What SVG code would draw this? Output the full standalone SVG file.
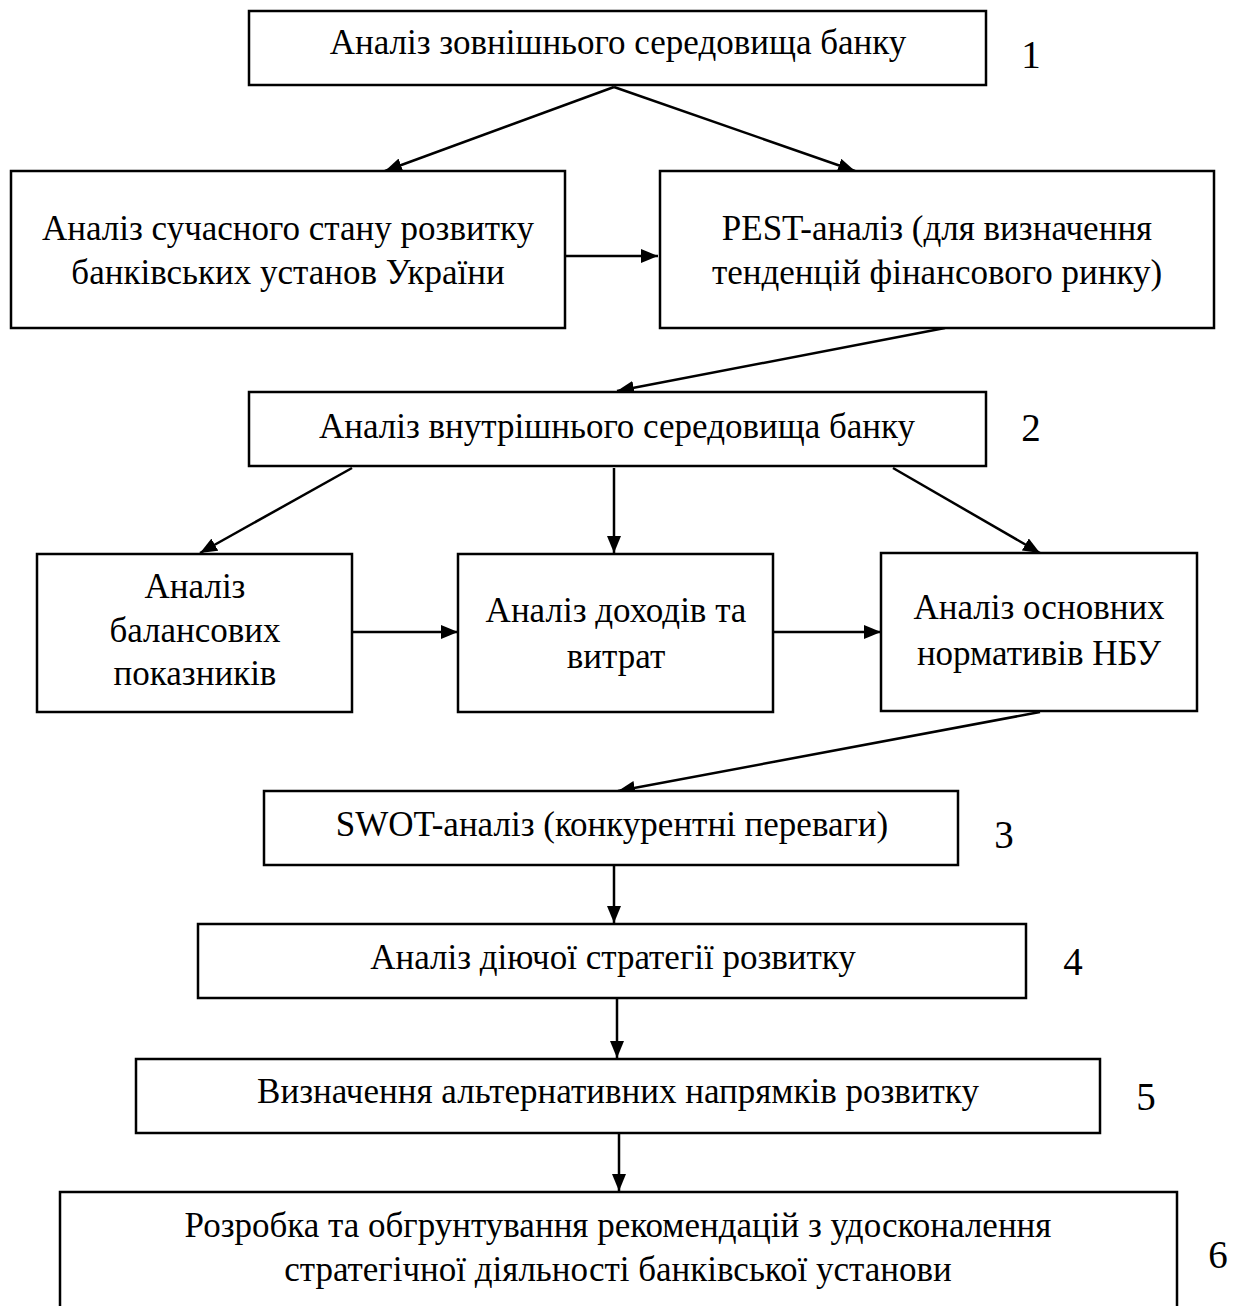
<svg xmlns="http://www.w3.org/2000/svg" width="1238" height="1306" viewBox="0 0 1238 1306">
<style>
.box{fill:#fff;stroke:#000;stroke-width:2.5}
.t{font-family:"Liberation Serif","Times New Roman",serif;font-size:35px;fill:#000;text-anchor:middle}
.n{font-family:"Liberation Serif","Times New Roman",serif;font-size:39px;fill:#000;text-anchor:middle}
.c{stroke:#000;stroke-width:2.5;fill:none;marker-end:url(#ah)}
</style>
<defs>
<marker id="ah" viewBox="0 0 17 14" refX="17" refY="7" markerWidth="17" markerHeight="14" markerUnits="userSpaceOnUse" orient="auto">
<path d="M0,0 L17,7 L0,14 Z" fill="#000"/>
</marker>
</defs>
<rect width="1238" height="1306" fill="#fff"/>
<g id="connectors">
<line class="c" x1="614" y1="87" x2="385" y2="171"/>
<line class="c" x1="614" y1="87" x2="855" y2="171"/>
<line class="c" x1="565" y1="256" x2="658" y2="256"/>
<line class="c" x1="945" y1="328" x2="617" y2="391"/>
<line class="c" x1="352" y1="468" x2="200" y2="553"/>
<line class="c" x1="614" y1="468" x2="614" y2="553"/>
<line class="c" x1="893" y1="468" x2="1040" y2="553"/>
<line class="c" x1="352" y1="632" x2="458" y2="632"/>
<line class="c" x1="773" y1="632" x2="881" y2="632"/>
<line class="c" x1="1040" y1="712" x2="618" y2="791"/>
<line class="c" x1="614" y1="865" x2="614" y2="923"/>
<line class="c" x1="617" y1="998" x2="617" y2="1058"/>
<line class="c" x1="619" y1="1133" x2="619" y2="1191"/>
</g>
<g id="node1">
<rect class="box" x="249" y="11" width="737" height="74"/>
<text class="t" x="618" y="54">Аналіз зовнішнього середовища банку</text>
<text class="n" x="1031" y="68">1</text>
</g>
<g id="node1a">
<rect class="box" x="11" y="171" width="554" height="157"/>
<text class="t" x="288" y="240">Аналіз сучасного стану розвитку</text>
<text class="t" x="288" y="284">банківських установ України</text>
</g>
<g id="node1b">
<rect class="box" x="660" y="171" width="554" height="157"/>
<text class="t" x="937" y="240">PEST-аналіз (для визначення</text>
<text class="t" x="937" y="284">тенденцій фінансового ринку)</text>
</g>
<g id="node2">
<rect class="box" x="249" y="392" width="737" height="74"/>
<text class="t" x="617" y="438">Аналіз внутрішнього середовища банку</text>
<text class="n" x="1031" y="441">2</text>
</g>
<g id="node2a">
<rect class="box" x="37" y="554" width="315" height="158"/>
<text class="t" x="195" y="598">Аналіз</text>
<text class="t" x="195" y="642">балансових</text>
<text class="t" x="195" y="685">показників</text>
</g>
<g id="node2b">
<rect class="box" x="458" y="554" width="315" height="158"/>
<text class="t" x="616" y="622">Аналіз доходів та</text>
<text class="t" x="616" y="668">витрат</text>
</g>
<g id="node2c">
<rect class="box" x="881" y="553" width="316" height="158"/>
<text class="t" x="1039" y="619">Аналіз основних</text>
<text class="t" x="1039" y="665">нормативів НБУ</text>
</g>
<g id="node3">
<rect class="box" x="264" y="791" width="694" height="74"/>
<text class="t" x="612" y="836">SWOT-аналіз (конкурентні переваги)</text>
<text class="n" x="1004" y="848">3</text>
</g>
<g id="node4">
<rect class="box" x="198" y="924" width="828" height="74"/>
<text class="t" x="613" y="969">Аналіз діючої стратегії розвитку</text>
<text class="n" x="1073" y="975">4</text>
</g>
<g id="node5">
<rect class="box" x="136" y="1059" width="964" height="74"/>
<text class="t" x="618" y="1103">Визначення альтернативних напрямків розвитку</text>
<text class="n" x="1146" y="1110">5</text>
</g>
<g id="node6">
<rect class="box" x="60" y="1192" width="1117" height="130"/>
<text class="t" x="618" y="1237">Розробка та обгрунтування рекомендацій з удосконалення</text>
<text class="t" x="618" y="1281">стратегічної діяльності банківської установи</text>
<text class="n" x="1218" y="1268">6</text>
</g>
</svg>
